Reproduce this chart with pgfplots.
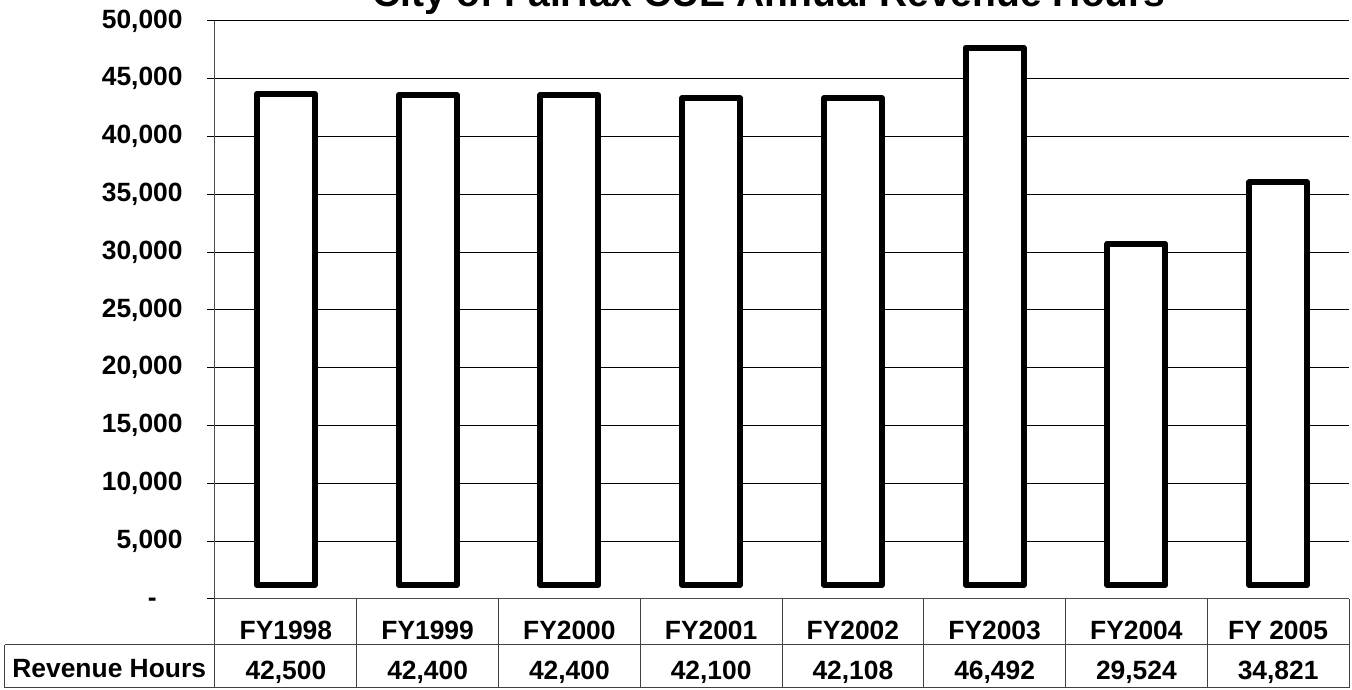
\documentclass[border=0pt]{standalone}
\usepackage{pgfplots}
\pgfplotsset{compat=1.18}
\usepackage{pgfplotstable}
\usepackage{fontspec}
\setmainfont{Liberation Sans}

\pgfplotstableread{
x label hours
0 FY1998 42500
1 FY1999 42400
2 FY2000 42400
3 FY2001 42100
4 FY2002 42108
5 FY2003 46492
6 FY2004 29524
7 {FY 2005} 34821
}\hours

\begin{document}
\begin{tikzpicture}[
  lbl/.style={font=\fontsize{13.2}{15}\selectfont\bfseries},
  tbl/.style={draw=black!75, line width=0.5pt}]
\begin{axis}[
  name=ax,
  scale only axis, width=567pt, height=289pt,
  xmin=-0.5, xmax=7.5, ymin=0, ymax=50000,
  axis x line*=bottom, axis y line*=left,
  axis line style={draw=black!70, line width=0.5pt},
  clip=false,
  scaled y ticks=false,
  ytick={0,5000,...,50000},
  yticklabels={{-\hspace*{13pt}\mbox{}},{5,000},{10,000},{15,000},{20,000},{25,000},{30,000},{35,000},{40,000},{45,000},{50,000}},
  ymajorgrids, grid style={black, line width=0.5pt},
  tick align=outside, major tick length=4pt,
  ytick style={black, line width=0.5pt},
  yticklabel style={lbl, anchor=base east, inner sep=0pt, yshift=-0.36em, xshift=-12pt},
  xtick={0,...,7}, xticklabels from table={\hours}{label},
  xtick style={draw=none},
  xticklabel style={lbl, anchor=base, inner sep=0pt, yshift=-16.5pt},
  extra x ticks={0,...,7},
  extra x tick labels={{42,500},{42,400},{42,400},{42,100},{42,108},{46,492},{29,524},{34,821}},
  extra x tick style={xticklabel style={yshift=-20pt}, xtick style={draw=none}, grid=none},
  /pgf/number format/assume math mode=true,
]
\addplot[ybar, bar width=29pt, fill=white, draw=black, line width=3pt, line join=round, yshift=7pt]
  table[x=x, y=hours]{\hours};

% data table under the plot
\draw[tbl] ([shift={(-105pt,-23pt)}]rel axis cs:0,0) -- ([yshift=-23pt]rel axis cs:1,0);
\draw[tbl] ([shift={(-105pt,-44.5pt)}]rel axis cs:0,0) -- ([yshift=-44.5pt]rel axis cs:1,0);
\draw[tbl] ([shift={(-105pt,-23pt)}]rel axis cs:0,0) -- ++(0pt,-21.5pt);
\pgfplotsinvokeforeach{-0.5,0.5,1.5,2.5,3.5,4.5,5.5,6.5,7.5}{
  \draw[tbl] (axis cs:#1,0) -- ++(0pt,-44.5pt);
}
\node[lbl, anchor=base west, inner sep=0pt] at ([shift={(-101.5pt,-39.5pt)}]rel axis cs:0,0) {Revenue Hours};

\node[font=\fontsize{19.5}{22}\selectfont\bfseries, anchor=base, inner sep=0pt]
  at ([shift={(-6.5pt,7pt)}]rel axis cs:0.5,1) {City of Fairfax CUE Annual Revenue Hours};
\end{axis}
\pgfresetboundingbox
\path[use as bounding box] ([shift={(-107.5pt,-45.5pt)}]ax.south west) rectangle ([shift={(1.5pt,10.5pt)}]ax.north east);
\end{tikzpicture}
\end{document}
